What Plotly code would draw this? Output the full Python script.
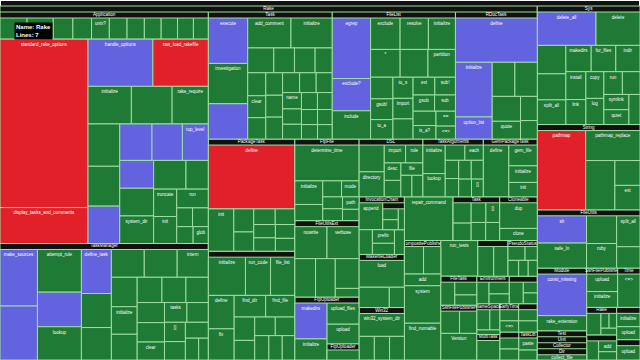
import plotly.graph_objects as go

# ---------------- data: (method, size, rating) ; rating defaults to "low" ----------------
# Application keeps its listed order (the small helpers first form the thin top strip)
application = [
    ("display_prerequisites", 580), ("load_rakefile", 560), ("invoke_task", 420),
    ("tty_output?", 400), ("unix?", 380), ("dynamic_width", 380), ("has_chain?", 370),
    ("windows?", 360), ("options", 350), ("add_loader", 340), ("truncate_output?", 320),
    ("standard_rake_options", 15000, "high"), ("display_tasks_and_comments", 3200, "high"),
    ("handle_options", 3100, "mid"), ("raw_load_rakefile", 2650, "high"),
    ("initialize", 1650), ("standard_exception_handling", 1550), ("rake_require", 1380),
    ("find_rakefile_location", 1360), ("load_imports", 1280), ("collect_tasks", 1200, "mid"),
    ("display_error_message", 1190, "mid"), ("have_rakefile", 1120, "mid"),
    ("top_level", 960, "mid"), ("terminal_width", 955, "mid"), ("parse_task_string", 950),
    ("system_dir", 945), ("const_warning", 940), ("rakefile_location", 650), ("truncate", 640),
    ("init", 630), ("run", 600), ("dynamic_width_stty", 300), ("dynamic_width_tput", 300),
    ("add_import", 280), ("glob", 260),
]
task_manager = [
    ("make_sources", 2200, "mid"), ("resolve_args_with_dependencies", 2100, "mid"),
    ("attempt_rule", 1950), ("enhance_with_matching_rule", 1580, "mid"), ("lookup", 1520),
    ("define_task", 1370, "mid"), ("lookup_in_scope", 1060), ("find_location", 1010),
    ("resolve_args_without_dependencies", 950), ("in_namespace", 950), ("intern", 900),
    ("resolve_args", 790), ("initialize", 740), ("tasks_in_scope", 690), ("trace_rule", 650),
    ("add_location", 630), ("generate_name", 590), ("synthesize_file_task", 570),
    ("create_rule", 550), ("clear", 510), ("tasks", 460), ("current_scope", 440), ("[]", 420),
    ("get_description", 400), ("record_task_metadata", 380), ("rules", 300), ("options", 220),
]
task = [
    ("execute", 1850, "mid"), ("investigation", 1640), ("invoke_with_call_chain", 1440, "mid"),
    ("add_comment", 1340), ("initialize", 1280), ("name_with_args", 670),
    ("format_trace_flags", 530), ("invoke_prerequisites", 530), ("enhance", 440),
    ("add_description", 430), ("clear", 410), ("add_chain_to", 400), ("clear_prerequisites", 390),
    ("clear_actions", 380), ("invoke", 380), ("reenable", 350), ("timestamp", 340),
    ("arg_names", 330), ("name", 320), ("needed?", 300), ("lookup_prerequisite", 290),
    ("sources", 280), ("to_s", 260), ("comment=", 250), ("inspect", 240),
    ("set_arg_names", 230), ("source", 220),
]
file_list = [
    ("egrep", 2400, "mid"), ("exclude?", 1280, "mid"), ("include", 1120), ("exclude", 960),
    ("resolve", 920), ("initialize", 880), ("*", 850), ("resolve_add", 800), ("partition", 790),
    ("add_matching", 500), ("gsub!", 480), ("to_a", 450), ("to_s", 440), ("import", 430),
    ("existing", 420), ("ext", 400), ("sub!", 380), ("gsub", 360), ("sub", 350),
    ("clear_exclude", 340), ("is_a?", 320), ("==", 300), ("<=>", 260),
]
rdoc_task = [
    ("define", 3750, "mid"), ("initialize", 2080, "mid"), ("option_list", 840, "mid"),
    ("rerdoc_task_name", 800), ("rdoc_task_name", 790), ("clobber_task_name", 730),
    ("quote", 520), ("option_string", 420), ("rdoc_target", 320),
]
package_task = [
    ("define", 5750, "high"), ("init", 1120), ("initialize", 480), ("package_dir_path", 400),
    ("package_name", 350), ("tgz_file", 320), ("tar_gz_file", 300), ("tar_bz2_file", 300),
    ("zip_file", 280), ("package_dir", 260),
]
test_task = [
    ("initialize", 1480), ("run_code", 1000), ("file_list", 970), ("define", 900), ("fix", 840),
    ("find_dir", 710), ("find_file", 660), ("ruby_opts_string", 500), ("rake_loader", 420),
    ("rake_lib_dir", 400), ("lib_path", 380), ("file_list_string", 360), ("option_list", 340),
    ("ruby_version", 320),
]
ftp_file = [
    ("determine_time", 2450), ("initialize", 700), ("parse_mode", 480), ("directory?", 320),
    ("mode", 300), ("symlink?", 250), ("self.date", 250), ("path", 220), ("symlink_path", 200),
]
file_utils_ext = [
    ("nowrite", 1100), ("verbose", 1100), ("when_writing", 850), ("rake_merge_option", 810),
    ("rake_check_options", 760), ("rake_output_message", 220),
]
ftp_uploader = [("makedirs", 1260, "mid"), ("initialize", 740), ("upload_files", 740), ("upload", 690)]
ftp_uploader_class = [("connect", 560)]
dsl = [
    ("namespace", 740), ("directory", 690), ("import", 420), ("rule", 340), ("desc", 320),
    ("multitask", 300), ("file", 300), ("file_create", 260), ("task", 260),
]
task_arguments = [
    ("initialize", 700), ("lookup", 570), ("new_scope", 330), ("each", 310), ("inspect", 270),
    ("to_hash", 270), ("with_defaults", 260), ("method_missing", 250), ("to_s", 250), ("[]", 230),
]
gem_package_task = [("define", 1450), ("gem_file", 650), ("initialize", 520), ("init", 450)]
invocation_chain = [("append", 700), ("initialize", 360), ("prefix", 330), ("to_s", 270), ("member?", 270)]
empty_invocation_chain = [("to_s", 240), ("member?", 220), ("append", 180)]
makefile_loader = [("load", 1350), ("process_line", 680), ("respace", 340)]
win32 = [("win32_system_dir", 1150), ("normalize", 400), ("rake_system", 400), ("windows?", 390)]
task_class = [("define_task", 420), ("scope_name", 360), ("tasks", 330), ("[]", 310), ("clear", 300), ("create_rule", 290)]
cloneable = [("dup", 1100), ("clone", 520)]
rake_functions = [("repair_command", 2100), ("system", 1350), ("find_runnable", 1320), ("run_tests", 1300), ("Version", 950)]
pseudo_status = [("exitstatus", 280), ("to_i", 200), (">>", 200), ("stopped?", 180), ("exited?", 170)]
file_task = [("timestamp", 400), ("out_of_date?", 350), ("needed?", 280)]
ssh_file_publisher = [("initialize", 520), ("upload", 480)]
environment = [("load_rakefile", 330), ("load_rakeconfig", 300), ("run", 250)]
composite_publisher = [("upload", 600), ("initialize", 540), ("add", 480)]
name_space = [("initialize", 320), ("tasks", 250), ("[]", 130)]
multi_task = [("invoke_prerequisites", 580)]
invocation_exception_mixin = [("chain", 560), ("chain=", 500)]
rule_recursion_overflow = [("initialize", 380), ("add_target", 190), ("message", 190)]
early_time = [("to_s", 260), ("<=>", 260)]
file_creation_task = [("timestamp", 260), ("needed?", 260)]
task_lib = [("paste", 280), ("dup", 230)]
ssh_dir_publisher = [("initialize", 260), ("upload", 260)]

sys_mod = [
    ("delete_all", 2000, "mid"), ("delete", 1500), ("for_matching_files", 830),
    ("run_with_verbose", 760), ("split_all", 720), ("makedirs", 680), ("for_files", 660),
    ("indir", 650), ("install", 570), ("link", 510), ("copy", 490), ("log", 480), ("run", 430),
    ("link_file", 410), ("symlink", 390), ("quiet", 380), ("ruby", 340),
]
string_ext = [("pathmap", 4000, "high"), ("pathmap_replace", 1700), ("pathmap_partial", 1500),
              ("pathmap_explode", 650), ("ext", 640)]
file_utils = [("sh", 1450, "mid"), ("safe_ln", 1330), ("create_shell_runner", 900), ("ruby", 800),
              ("split_all", 780), ("set_verbose", 540)]
module_ext = [("const_missing", 2200, "mid"), ("rake_extension", 800)]
collector_dir = [("collect_file", 1400)]
ssh_file_publisher2 = [("upload", 620), ("initialize", 560)]
rake_top = [("each_dir_parent", 380), ("original_dir", 150), ("application", 140), ("application=", 130)]
composite_publisher2 = [("upload", 290), ("add", 250), ("initialize", 190)]
time_ext = [("<=>", 850)]
ssh_dir_publisher2 = [("initialize", 370), ("upload", 360)]
ssh_fresh_dir_publisher = [("upload", 460)]

RATING_COLORS = {"high": "#e1202a", "mid": "#6363df", "low": "#1e7a34"}
PARENT_COLOR = "#111111"


def group(label, items=(), subs=(), keep_order=False):
    return {"label": label, "items": list(items), "subs": list(subs), "keep": keep_order}


def total(node):
    return sum(it[1] for it in node["items"]) + sum(total(s) for s in node["subs"])


tree = group("", subs=[
    group("Rake", items=rake_functions, subs=[
        group("Application", application, keep_order=True),
        group("TaskManager", task_manager),
        group("Task", task),
        group("FileList", file_list),
        group("RDocTask", rdoc_task),
        group("PackageTask", package_task),
        group("TestTask", test_task),
        group("FtpFile", ftp_file),
        group("FileUtilsExt", file_utils_ext),
        group("FtpUploader", ftp_uploader, subs=[group("FtpUploader", ftp_uploader_class)]),
        group("DSL", dsl),
        group("TaskArguments", task_arguments),
        group("GemPackageTask", gem_package_task),
        group("InvocationChain", invocation_chain, subs=[group("EmptyInvocationChain", empty_invocation_chain)]),
        group("MakefileLoader", makefile_loader),
        group("Win32", win32),
        group("Task", task_class),
        group("Cloneable", cloneable),
        group("PseudoStatus", pseudo_status),
        group("FileTask", file_task),
        group("SshFilePublisher", ssh_file_publisher),
        group("Environment", environment),
        group("CompositePublisher", composite_publisher),
        group("NameSpace", name_space),
        group("MultiTask", multi_task),
        group("InvocationExceptionMixin", invocation_exception_mixin),
        group("RuleRecursionOverflowError", rule_recursion_overflow),
        group("EarlyTime", early_time),
        group("FileCreationTask", file_creation_task),
        group("TaskLib", task_lib),
        group("SshDirPublisher", ssh_dir_publisher),
    ]),
    group("Sys", sys_mod),
    group("String", string_ext),
    group("FileUtils", file_utils),
    group("Module", module_ext),
    group("Test", subs=[group("Unit", subs=[group("Collector", subs=[group("Dir", collector_dir)])])]),
    group("SshFilePublisher", ssh_file_publisher2),
    group("Rake", rake_top),
    group("CompositePublisher", composite_publisher2),
    group("Time", time_ext),
    group("SshDirPublisher", ssh_dir_publisher2),
    group("SshFreshDirPublisher", ssh_fresh_dir_publisher),
])

ids, labels, parents, values, colors, sizes = [], [], [], [], [], []
counter = [0]


def emit(node, parent_id):
    counter[0] += 1
    nid = "n%d" % counter[0]
    ids.append(nid); labels.append(node["label"]); parents.append(parent_id)
    values.append(0); colors.append(PARENT_COLOR); sizes.append(8)
    children = [(it[1], "leaf", it) for it in node["items"]] + [(total(s), "group", s) for s in node["subs"]]
    if not node["keep"]:
        children.sort(key=lambda c: -c[0])
    for v, kind, obj in children:
        if kind == "group":
            emit(obj, nid)
        else:
            counter[0] += 1
            ids.append("n%d" % counter[0]); labels.append(obj[0]); parents.append(nid)
            values.append(obj[1])
            colors.append(RATING_COLORS[obj[2] if len(obj) > 2 else "low"])
            sizes.append(7)


emit(tree, "")

fig = go.Figure(go.Treemap(
    ids=ids, labels=labels, parents=parents, values=values,
    branchvalues="remainder", sort=False,
    marker=dict(colors=colors, line=dict(width=1, color="#9fdf9f"),
                pad=dict(t=6, l=0, r=0, b=0), depthfade=False),
    tiling=dict(packing="squarify", squarifyratio=1, pad=0),
    textinfo="label", textposition="top center",
    textfont=dict(color="white", size=sizes, family="Liberation Sans, Arial, sans-serif"),
    pathbar=dict(visible=False), root=dict(color=PARENT_COLOR),
    hoverinfo="none",
))
fig.update_layout(
    width=640, height=360, margin=dict(l=0, r=0, t=0, b=0),
    paper_bgcolor="#000000", uniformtext=dict(minsize=4.5, mode="hide"),
    annotations=[dict(x=0.022, y=0.94, xref="paper", yref="paper", xanchor="left", yanchor="top",
                      text="<b>Name: Rake</b><br><b>Lines: 7</b>", showarrow=False, align="left",
                      bgcolor="#000000", font=dict(color="white", size=6, family="Liberation Sans"))],
)
fig.write_html("out.html", config={"displayModeBar": False})
